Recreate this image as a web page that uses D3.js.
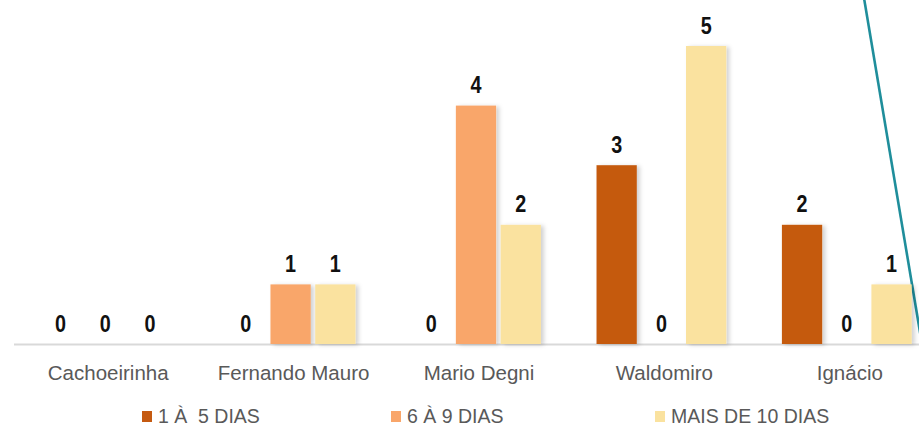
<!DOCTYPE html>
<html><head><meta charset="utf-8">
<script src="https://cdn.jsdelivr.net/npm/d3@7"></script>
<style>body{margin:0;background:#fff;}svg{display:block;font-family:"Liberation Sans",Arial,sans-serif;}</style>
</head><body>
<svg id="chart" width="919" height="427"></svg>
<script>
const categories = ["Cachoeirinha","Fernando Mauro","Mario Degni","Waldomiro","Ignácio"];
const seriesNames = ["1 À  5 DIAS","6 À 9 DIAS","MAIS DE 10 DIAS"];
const serie1a5 = [0,0,0,3,2];
const serie6a9 = [0,1,4,0,0];
const serieMais10 = [0,1,2,5,1];
const seriesValues = [serie1a5, serie6a9, serieMais10];
const colors = ["#C55A11","#F9A66A","#FAE29F"];

const svg = d3.select("#chart");
const defs = svg.append("defs");
const f = defs.append("filter").attr("id","sh").attr("x","-20%").attr("y","-10%").attr("width","160%").attr("height","130%");
f.append("feDropShadow").attr("dx",3).attr("dy",1).attr("stdDeviation",2).attr("flood-color","#000").attr("flood-opacity",0.18);

const baseY = 344;
const x0 = d3.scaleBand().domain(categories).range([12.5, 939.5]).paddingInner(0.3).paddingOuter(0.15);
const x1 = d3.scaleBand().domain(seriesNames).range([0, x0.bandwidth()]).paddingInner(0.1).paddingOuter(0);
const y = d3.scaleLinear().domain([0,5]).range([baseY, 46]);

// decorative teal line
svg.append("line").attr("x1",864).attr("y1",-2).attr("x2",921).attr("y2",338)
  .attr("stroke","#1F8E9B").attr("stroke-width",2.6);

// axis line
svg.append("line").attr("x1",14).attr("x2",919).attr("y1",baseY+0.5).attr("y2",baseY+0.5)
  .attr("stroke","#D9D9D9").attr("stroke-width",2);

const g = svg.append("g");
categories.forEach((c, ci) => {
  seriesNames.forEach((s, si) => {
    const v = seriesValues[si][ci];
    const bx = x0(c) + x1(s);
    if (v > 0) {
      g.append("rect").attr("x", bx).attr("y", y(v)).attr("width", x1.bandwidth())
        .attr("height", baseY - y(v)).attr("fill", colors[si]).attr("filter","url(#sh)");
    }
    g.append("text")
      .attr("transform", `translate(${bx + x1.bandwidth()/2},${y(v) - 12.5}) scale(0.86,1)`)
      .attr("text-anchor","middle").attr("font-size",23).attr("font-weight","bold")
      .attr("fill","#111").text(v);
  });
  svg.append("text").attr("x", x0(c) + x0.bandwidth()/2 + 3).attr("y", 380)
    .attr("text-anchor","middle").attr("font-size",20.5).attr("fill","#595959").text(c);
});

// legend
const legX = [142, 391, 655];
seriesNames.forEach((s, i) => {
  svg.append("rect").attr("x", legX[i]).attr("y", 411).attr("width", 10).attr("height", 11).attr("fill", colors[i]);
  svg.append("text").attr("x", legX[i] + 16).attr("y", 423).attr("font-size",19.5).attr("fill","#595959")
    .attr("xml:space","preserve").style("white-space","pre").text(s);
});
</script>
</body></html>
